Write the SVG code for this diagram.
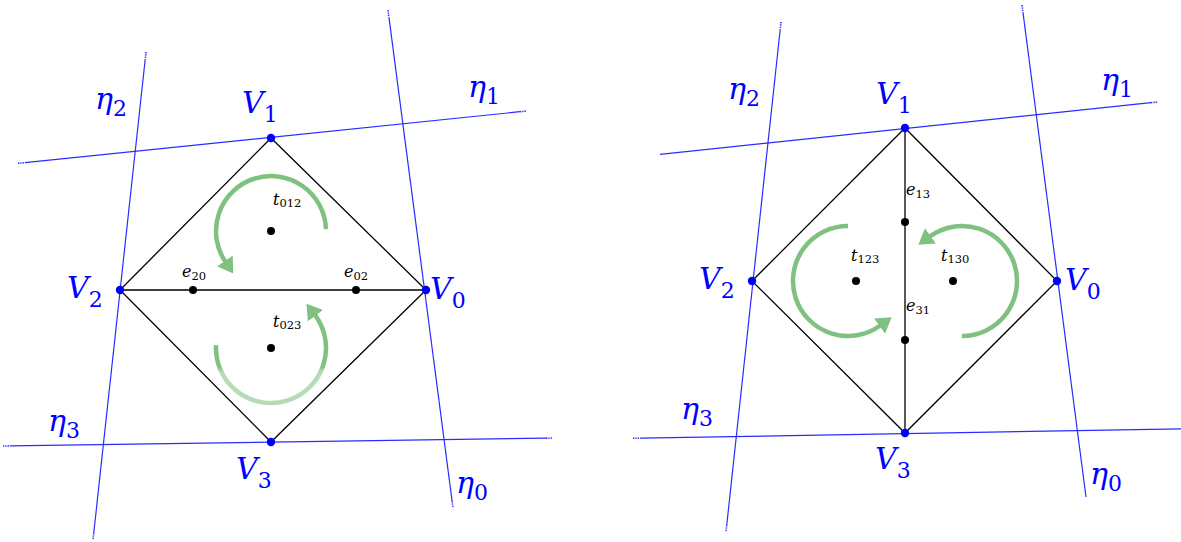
<svg xmlns="http://www.w3.org/2000/svg" width="1181" height="542" viewBox="0 0 1181 542">
<style>
.ln{stroke:#2b2bff;stroke-width:1.2;fill:none}
.dt{stroke:#2b2bff;stroke-width:1.6;stroke-dasharray:1.3 1;fill:none}
.edge{stroke:#000;stroke-width:1.3;fill:none}
.vp{fill:#0000ff}
.bp{fill:#000}
.arc{stroke:#7fc27f;stroke-width:4.5;fill:none;marker-end:url(#ah)}
.lbl{font-family:"DejaVu Serif",serif;font-style:italic;fill:#0000ff;font-size:30px}
.sub{font-style:normal;font-size:22px}
.sm{font-family:"DejaVu Serif",serif;font-style:italic;fill:#000;font-size:16px}
.ssub{font-style:normal;font-size:11.5px}
</style>
<defs>
<marker id="ah" markerUnits="userSpaceOnUse" viewBox="0 0 16 20" markerWidth="16" markerHeight="20" refX="1" refY="10" orient="auto">
<path d="M0,0.5 L15,10 L0,19.5 Z" fill="#7fc27f"/>
</marker>
<linearGradient id="fade" gradientUnits="userSpaceOnUse" x1="0" y1="340" x2="0" y2="404">
<stop offset="0.42" stop-color="#7fc27f"/>
<stop offset="0.5" stop-color="#b6dbb6"/>
<stop offset="1" stop-color="#b6dbb6"/>
</linearGradient>
</defs>

<g id="connectors">
<path class="ln" d="M25,162.6 L520,111.7"/>
<path class="dt" d="M18,163.3 L25,162.6 M520,111.7 L527,111"/>
<path class="ln" d="M145.24,58.96 L93.76,533.04"/>
<path class="dt" d="M146,52 L145.24,58.96 M93.76,533.04 L93,540"/>
<path class="ln" d="M10,445.9 L546,438.1"/>
<path class="dt" d="M3,446 L10,445.9 M546,438.1 L553,438"/>
<path class="ln" d="M388.9,16.9 L452.1,501.1"/>
<path class="dt" d="M388,10 L388.9,16.9 M452.1,501.1 L453,508"/>
<path class="edge" d="M271,138 L426,290 L271,442 L120,290 Z M120,290 L426,290"/>
<path class="ln" d="M660,154.3 L1151,102.7"/>
<path class="dt" d="M1151,102.7 L1158,102"/>
<path class="ln" d="M780.25,28.96 L726.75,525.04"/>
<path class="dt" d="M781,22 L780.25,28.96 M726.75,525.04 L726,532"/>
<path class="ln" d="M640,438.2 L1181,428.8"/>
<path class="dt" d="M633,438.3 L640,438.2"/>
<path class="ln" d="M1022.9,11.9 L1086,497"/>
<path class="dt" d="M1022,5 L1022.9,11.9"/>
<path class="edge" d="M905,128 L1057,281 L905,433 L752,281 Z M905,128 L905,433"/>
<path class="arc" d="M325.97,229.08 A55,55 0 1 0 225.4,261.8"/>
<path class="arc" style="stroke:url(#fade)" d="M216.08,345.12 A55,55 0 1 0 314.9,314.9"/>
<path class="arc" d="M848,226 A55,55 0 1 0 880.3,325.5"/>
<path class="arc" d="M962,336 A55,55 0 1 0 929.7,236.5"/>
</g>

<g id="L-V1"><circle class="vp" cx="271" cy="138" r="4.2"/><text class="lbl" x="242" y="113">V<tspan class="sub" dy="9">1</tspan></text></g>
<g id="L-V2"><circle class="vp" cx="120" cy="290" r="4.2"/><text class="lbl" x="67" y="298">V<tspan class="sub" dy="9">2</tspan></text></g>
<g id="L-V0"><circle class="vp" cx="426" cy="290" r="4.2"/><text class="lbl" x="430" y="299">V<tspan class="sub" dy="9">0</tspan></text></g>
<g id="L-V3"><circle class="vp" cx="271" cy="442" r="4.2"/><text class="lbl" x="236" y="479">V<tspan class="sub" dy="9">3</tspan></text></g>
<g id="L-eta2"><text class="lbl" x="95" y="109">η<tspan class="sub" dy="7">2</tspan></text></g>
<g id="L-eta1"><text class="lbl" x="468" y="97">η<tspan class="sub" dy="7">1</tspan></text></g>
<g id="L-eta3"><text class="lbl" x="48" y="431">η<tspan class="sub" dy="7">3</tspan></text></g>
<g id="L-eta0"><text class="lbl" x="456" y="493">η<tspan class="sub" dy="7">0</tspan></text></g>
<g id="L-t012"><circle class="bp" cx="271" cy="231" r="4"/><text class="sm" x="273" y="205">t<tspan class="ssub" dy="2">012</tspan></text></g>
<g id="L-t023"><circle class="bp" cx="271" cy="348" r="4"/><text class="sm" x="273" y="327">t<tspan class="ssub" dy="2">023</tspan></text></g>
<g id="L-e20"><circle class="bp" cx="193" cy="290" r="4"/><text class="sm" x="182" y="277">e<tspan class="ssub" dy="3">20</tspan></text></g>
<g id="L-e02"><circle class="bp" cx="356" cy="290" r="4"/><text class="sm" x="344" y="277">e<tspan class="ssub" dy="3">02</tspan></text></g>

<g id="R-V1"><circle class="vp" cx="905" cy="128" r="4.2"/><text class="lbl" x="876" y="104">V<tspan class="sub" dy="9">1</tspan></text></g>
<g id="R-V2"><circle class="vp" cx="752" cy="281" r="4.2"/><text class="lbl" x="699" y="289">V<tspan class="sub" dy="9">2</tspan></text></g>
<g id="R-V0"><circle class="vp" cx="1057" cy="281" r="4.2"/><text class="lbl" x="1065" y="290">V<tspan class="sub" dy="9">0</tspan></text></g>
<g id="R-V3"><circle class="vp" cx="905" cy="433" r="4.2"/><text class="lbl" x="875" y="469">V<tspan class="sub" dy="9">3</tspan></text></g>
<g id="R-eta2"><text class="lbl" x="728" y="99">η<tspan class="sub" dy="7">2</tspan></text></g>
<g id="R-eta1"><text class="lbl" x="1101" y="90">η<tspan class="sub" dy="7">1</tspan></text></g>
<g id="R-eta3"><text class="lbl" x="681" y="419">η<tspan class="sub" dy="7">3</tspan></text></g>
<g id="R-eta0"><text class="lbl" x="1090" y="484">η<tspan class="sub" dy="7">0</tspan></text></g>
<g id="R-t123"><circle class="bp" cx="856" cy="281" r="4"/><text class="sm" x="851" y="261">t<tspan class="ssub" dy="2">123</tspan></text></g>
<g id="R-t130"><circle class="bp" cx="953" cy="281" r="4"/><text class="sm" x="941" y="261">t<tspan class="ssub" dy="2">130</tspan></text></g>
<g id="R-e13"><circle class="bp" cx="905" cy="222" r="4"/><text class="sm" x="906" y="195">e<tspan class="ssub" dy="3">13</tspan></text></g>
<g id="R-e31"><circle class="bp" cx="905" cy="340" r="4"/><text class="sm" x="906" y="311">e<tspan class="ssub" dy="3">31</tspan></text></g>
</svg>
